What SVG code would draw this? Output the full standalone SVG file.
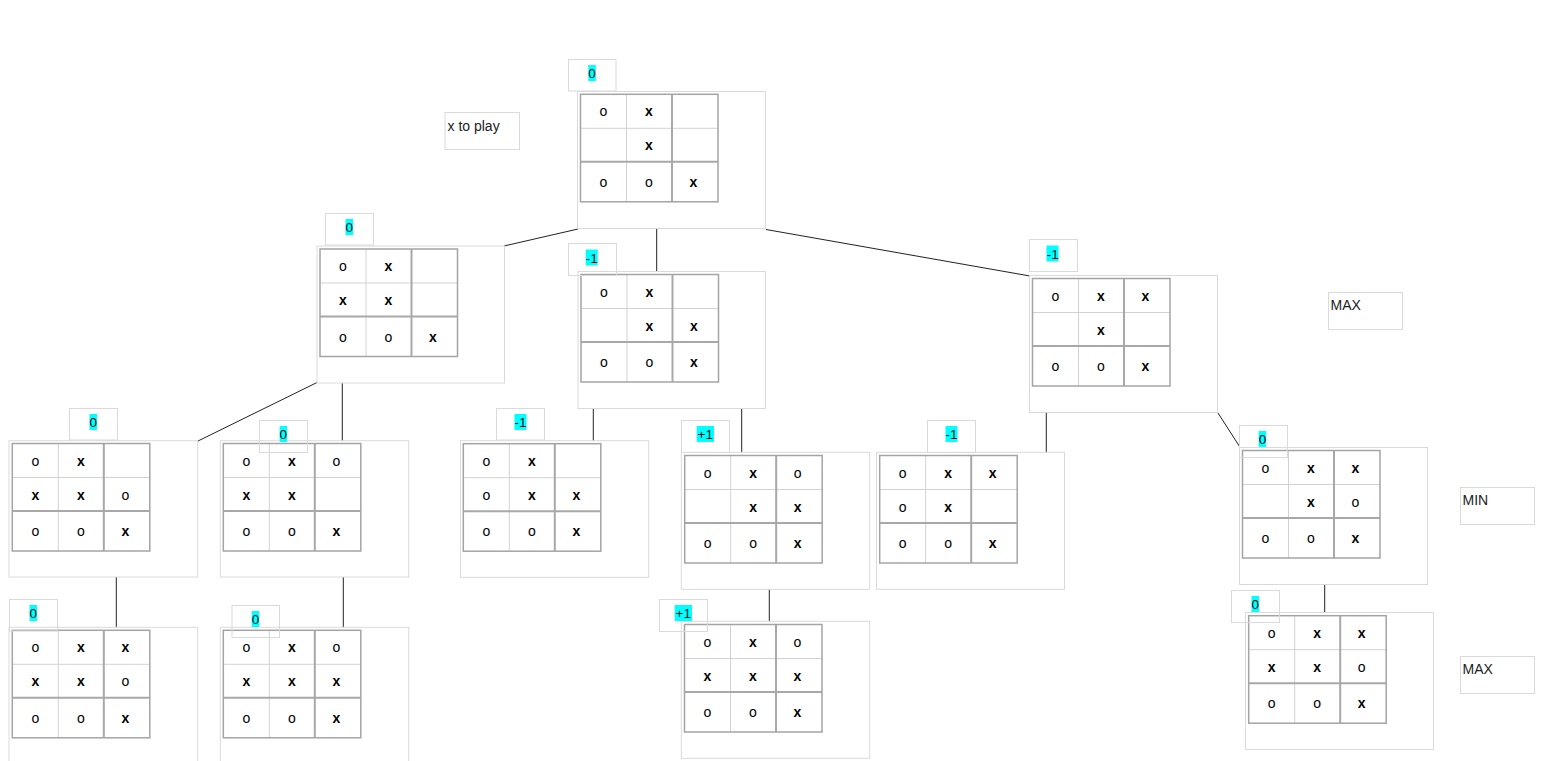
<svg xmlns="http://www.w3.org/2000/svg" xmlns:xlink="http://www.w3.org/1999/xlink" width="1563" height="761" viewBox="0 0 1563 761">
<style>
.box{fill:none;stroke:#dadada;stroke-width:1}
.lbl{fill:none;stroke:#dadada;stroke-width:1}
.hl{fill:#00ffff}
.v{font-family:"Liberation Sans",Arial,sans-serif;font-size:13.5px;fill:#111;text-anchor:middle}
.t{font-family:"Liberation Sans",Arial,sans-serif;font-size:14px;fill:#222}
.c{font-family:"Liberation Sans",Arial,sans-serif;font-size:14px;fill:#000;text-anchor:middle}
.x{font-weight:bold}
.conn line{stroke:#222;stroke-width:1}
</style>
<defs>
<g id="grid">
<rect x="0" y="0" width="137.5" height="107.5" fill="#fff" stroke="none"/>
<line x1="46" y1="0" x2="46" y2="107.5" stroke="#d2d2d2" stroke-width="1"/>
<line x1="0" y1="34" x2="91.5" y2="34" stroke="#d2d2d2" stroke-width="1"/>
<line x1="91.5" y1="34" x2="137.5" y2="34" stroke="#d2d2d2" stroke-width="1"/>
<line x1="91.5" y1="0" x2="91.5" y2="107.5" stroke="#a8a8a8" stroke-width="2"/>
<line x1="0" y1="67.5" x2="137.5" y2="67.5" stroke="#a8a8a8" stroke-width="2"/>
<rect x="0" y="0" width="137.5" height="107.5" fill="none" stroke="#a4a4a4" stroke-width="1.5"/>
</g>
</defs>
<rect x="0" y="0" width="1563" height="761" fill="#fff"/>

<g id="connectors" class="conn">
<line x1="578" y1="229" x2="504" y2="246"/>
<line x1="656.7" y1="228.5" x2="656.7" y2="271.3"/>
<line x1="766" y1="229.5" x2="1030" y2="276"/>
<line x1="317" y1="382.5" x2="198" y2="441"/>
<line x1="342.3" y1="383" x2="342.3" y2="441"/>
<line x1="593.3" y1="409" x2="593.3" y2="441"/>
<line x1="741.7" y1="409" x2="741.7" y2="452.3"/>
<line x1="1046.3" y1="413" x2="1046.3" y2="452.3"/>
<line x1="1218" y1="413" x2="1240.5" y2="448"/>
<line x1="116.3" y1="577" x2="116.3" y2="627.3"/>
<line x1="343.3" y1="577" x2="343.3" y2="627.3"/>
<line x1="769.3" y1="589.3" x2="769.3" y2="621.3"/>
<line x1="1324.7" y1="584.3" x2="1324.7" y2="612.3"/>
</g>

<g id="note-xtoplay">
<rect class="lbl" x="445" y="112.5" width="74.5" height="37"/>
<text class="t" x="447.5" y="130.5">x to play</text>
</g>
<g id="note-max1">
<rect class="lbl" x="1328.5" y="292.5" width="74" height="37"/>
<text class="t" x="1330.5" y="310">MAX</text>
</g>
<g id="note-min">
<rect class="lbl" x="1460.5" y="487.5" width="74" height="37"/>
<text class="t" x="1462.5" y="505">MIN</text>
</g>
<g id="note-max2">
<rect class="lbl" x="1460.5" y="656.5" width="74" height="37"/>
<text class="t" x="1462.5" y="674">MAX</text>
</g>

<!-- A -->
<g id="nodeA">
<rect class="box" x="577.5" y="91.5" width="188" height="137"/>
<use xlink:href="#grid" href="#grid" x="580.5" y="94.3"/>
<g class="c"><text x="603.5" y="116.3">o</text><text class="x" x="649" y="116.3">x</text>
<text class="x" x="649" y="150.3">x</text>
<text x="603.5" y="186.8">o</text><text x="649" y="186.8">o</text><text class="x" x="693.5" y="186.8">x</text></g>
<rect class="lbl" x="568.5" y="59.5" width="47.5" height="31.5"/>
<rect class="hl" x="588.3" y="65" width="7.5" height="16"/>
<text class="v" x="592" y="78">0</text>
</g>

<!-- B -->
<g id="nodeB">
<rect class="box" x="317" y="246" width="187.5" height="137"/>
<use xlink:href="#grid" href="#grid" x="320" y="249"/>
<g class="c"><text x="343" y="271">o</text><text class="x" x="388.5" y="271">x</text>
<text class="x" x="343" y="305">x</text><text class="x" x="388.5" y="305">x</text>
<text x="343" y="341.5">o</text><text x="388.5" y="341.5">o</text><text class="x" x="433" y="341.5">x</text></g>
<rect class="lbl" x="325.5" y="213.5" width="48" height="31.5"/>
<rect class="hl" x="345.5" y="219" width="7.5" height="16"/>
<text class="v" x="349.3" y="232">0</text>
</g>

<!-- C -->
<g id="nodeC">
<rect class="box" x="578" y="271.5" width="187.5" height="137"/>
<use xlink:href="#grid" href="#grid" x="581" y="274.5"/>
<g class="c"><text x="604" y="296.5">o</text><text class="x" x="649.5" y="296.5">x</text>
<text class="x" x="649.5" y="330.5">x</text><text class="x" x="694" y="330.5">x</text>
<text x="604" y="367">o</text><text x="649.5" y="367">o</text><text class="x" x="694" y="367">x</text></g>
<rect class="lbl" x="568.5" y="243.5" width="48" height="32"/>
<rect class="hl" x="585.7" y="249.5" width="12" height="16"/>
<text class="v" x="591.8" y="262.5">-1</text>
</g>

<!-- D -->
<g id="nodeD">
<rect class="box" x="1029.5" y="275.5" width="188" height="137"/>
<use xlink:href="#grid" href="#grid" x="1032.5" y="278.5"/>
<g class="c"><text x="1055.5" y="300.5">o</text><text class="x" x="1101" y="300.5">x</text><text class="x" x="1145.5" y="300.5">x</text>
<text class="x" x="1101" y="334.5">x</text>
<text x="1055.5" y="371">o</text><text x="1101" y="371">o</text><text class="x" x="1145.5" y="371">x</text></g>
<rect class="lbl" x="1029.5" y="239.5" width="48" height="32"/>
<rect class="hl" x="1046.5" y="245.5" width="12" height="16"/>
<text class="v" x="1052.7" y="258.5">-1</text>
</g>

<!-- E -->
<g id="nodeE">
<rect class="box" x="9" y="440.7" width="188.7" height="136.3"/>
<use xlink:href="#grid" href="#grid" x="12.3" y="443.5"/>
<g class="c"><text x="35.3" y="465.5">o</text><text class="x" x="80.8" y="465.5">x</text>
<text class="x" x="35.3" y="499.5">x</text><text class="x" x="80.8" y="499.5">x</text><text x="125.3" y="499.5">o</text>
<text x="35.3" y="536">o</text><text x="80.8" y="536">o</text><text class="x" x="125.3" y="536">x</text></g>
<rect class="lbl" x="69.5" y="408.5" width="48" height="31.5"/>
<rect class="hl" x="89.5" y="414" width="7.5" height="16"/>
<text class="v" x="93.3" y="427">0</text>
</g>

<!-- F -->
<g id="nodeF">
<rect class="box" x="220.3" y="440.7" width="188.4" height="136.3"/>
<use xlink:href="#grid" href="#grid" x="223.3" y="443.5"/>
<g class="c"><text x="246.3" y="465.5">o</text><text class="x" x="291.8" y="465.5">x</text><text x="336.3" y="465.5">o</text>
<text class="x" x="246.3" y="499.5">x</text><text class="x" x="291.8" y="499.5">x</text>
<text x="246.3" y="536">o</text><text x="291.8" y="536">o</text><text class="x" x="336.3" y="536">x</text></g>
<rect class="lbl" x="259.5" y="420.5" width="48" height="32"/>
<rect class="hl" x="279.6" y="426" width="7.5" height="16"/>
<text class="v" x="283.3" y="439">0</text>
</g>

<!-- G -->
<g id="nodeG">
<rect class="box" x="460.5" y="440.7" width="188.2" height="136.6"/>
<use xlink:href="#grid" href="#grid" x="463.3" y="443.7"/>
<g class="c"><text x="486.3" y="465.7">o</text><text class="x" x="531.8" y="465.7">x</text>
<text x="486.3" y="499.7">o</text><text class="x" x="531.8" y="499.7">x</text><text class="x" x="576.3" y="499.7">x</text>
<text x="486.3" y="536.2">o</text><text x="531.8" y="536.2">o</text><text class="x" x="576.3" y="536.2">x</text></g>
<rect class="lbl" x="496.5" y="408.5" width="48" height="31.5"/>
<rect class="hl" x="514.5" y="414" width="12" height="16"/>
<text class="v" x="520.5" y="427">-1</text>
</g>

<!-- H -->
<g id="nodeH">
<rect class="box" x="681.3" y="452.3" width="188.4" height="137"/>
<use xlink:href="#grid" href="#grid" x="684.7" y="455.5"/>
<g class="c"><text x="707.7" y="477.5">o</text><text class="x" x="753.2" y="477.5">x</text><text x="797.7" y="477.5">o</text>
<text class="x" x="753.2" y="511.5">x</text><text class="x" x="797.7" y="511.5">x</text>
<text x="707.7" y="548">o</text><text x="753.2" y="548">o</text><text class="x" x="797.7" y="548">x</text></g>
<rect class="lbl" x="681.5" y="420.5" width="48" height="32"/>
<rect class="hl" x="696.7" y="426" width="17.3" height="16"/>
<text class="v" x="705.3" y="439">+1</text>
</g>

<!-- I -->
<g id="nodeI">
<rect class="box" x="876.5" y="452.3" width="188" height="137"/>
<use xlink:href="#grid" href="#grid" x="879.7" y="455.5"/>
<g class="c"><text x="902.7" y="477.5">o</text><text class="x" x="948.2" y="477.5">x</text><text class="x" x="992.7" y="477.5">x</text>
<text x="902.7" y="511.5">o</text><text class="x" x="948.2" y="511.5">x</text>
<text x="902.7" y="548">o</text><text x="948.2" y="548">o</text><text class="x" x="992.7" y="548">x</text></g>
<rect class="lbl" x="927.5" y="420.5" width="48" height="32"/>
<rect class="hl" x="945.5" y="426" width="12" height="16"/>
<text class="v" x="951.5" y="439">-1</text>
</g>

<!-- J -->
<g id="nodeJ">
<rect class="box" x="1239.5" y="447.5" width="188" height="137"/>
<use xlink:href="#grid" href="#grid" x="1242.5" y="450.5"/>
<g class="c"><text x="1265.5" y="472.5">o</text><text class="x" x="1311" y="472.5">x</text><text class="x" x="1355.5" y="472.5">x</text>
<text class="x" x="1311" y="506.5">x</text><text x="1355.5" y="506.5">o</text>
<text x="1265.5" y="543">o</text><text x="1311" y="543">o</text><text class="x" x="1355.5" y="543">x</text></g>
<rect class="lbl" x="1239.5" y="425.5" width="48" height="32"/>
<rect class="hl" x="1258.7" y="431" width="7.5" height="16"/>
<text class="v" x="1262.5" y="444">0</text>
</g>

<!-- K -->
<g id="nodeK">
<rect class="box" x="681.3" y="621.3" width="188.4" height="137"/>
<use xlink:href="#grid" href="#grid" x="684.5" y="624.5"/>
<g class="c"><text x="707.5" y="646.5">o</text><text class="x" x="753" y="646.5">x</text><text x="797.5" y="646.5">o</text>
<text class="x" x="707.5" y="680.5">x</text><text class="x" x="753" y="680.5">x</text><text class="x" x="797.5" y="680.5">x</text>
<text x="707.5" y="717">o</text><text x="753" y="717">o</text><text class="x" x="797.5" y="717">x</text></g>
<rect class="lbl" x="659.5" y="599.5" width="48" height="32"/>
<rect class="hl" x="674.7" y="605" width="17.3" height="16"/>
<text class="v" x="683.3" y="618">+1</text>
</g>

<!-- L -->
<g id="nodeL">
<rect class="box" x="9" y="627.3" width="188.7" height="137"/>
<use xlink:href="#grid" href="#grid" x="12.3" y="630.3"/>
<g class="c"><text x="35.3" y="652.3">o</text><text class="x" x="80.8" y="652.3">x</text><text class="x" x="125.3" y="652.3">x</text>
<text class="x" x="35.3" y="686.3">x</text><text class="x" x="80.8" y="686.3">x</text><text x="125.3" y="686.3">o</text>
<text x="35.3" y="722.8">o</text><text x="80.8" y="722.8">o</text><text class="x" x="125.3" y="722.8">x</text></g>
<rect class="lbl" x="9.5" y="599.5" width="48" height="31.5"/>
<rect class="hl" x="29.5" y="605" width="7.5" height="16"/>
<text class="v" x="33.3" y="618">0</text>
</g>

<!-- M -->
<g id="nodeM">
<rect class="box" x="220.3" y="627.3" width="188.4" height="137"/>
<use xlink:href="#grid" href="#grid" x="223.3" y="630.3"/>
<g class="c"><text x="246.3" y="652.3">o</text><text class="x" x="291.8" y="652.3">x</text><text x="336.3" y="652.3">o</text>
<text class="x" x="246.3" y="686.3">x</text><text class="x" x="291.8" y="686.3">x</text><text class="x" x="336.3" y="686.3">x</text>
<text x="246.3" y="722.8">o</text><text x="291.8" y="722.8">o</text><text class="x" x="336.3" y="722.8">x</text></g>
<rect class="lbl" x="232" y="605.5" width="47.5" height="32"/>
<rect class="hl" x="251.7" y="611" width="7.5" height="16"/>
<text class="v" x="255.5" y="624">0</text>
</g>

<!-- N -->
<g id="nodeN">
<rect class="box" x="1245.5" y="612.5" width="188" height="137"/>
<use xlink:href="#grid" href="#grid" x="1248.7" y="615.7"/>
<g class="c"><text x="1271.7" y="637.7">o</text><text class="x" x="1317.2" y="637.7">x</text><text class="x" x="1361.7" y="637.7">x</text>
<text class="x" x="1271.7" y="671.7">x</text><text class="x" x="1317.2" y="671.7">x</text><text x="1361.7" y="671.7">o</text>
<text x="1271.7" y="708.2">o</text><text x="1317.2" y="708.2">o</text><text class="x" x="1361.7" y="708.2">x</text></g>
<rect class="lbl" x="1231.5" y="590.5" width="48" height="32"/>
<rect class="hl" x="1251.5" y="596" width="7.5" height="16"/>
<text class="v" x="1255.2" y="609">0</text>
</g>
</svg>
